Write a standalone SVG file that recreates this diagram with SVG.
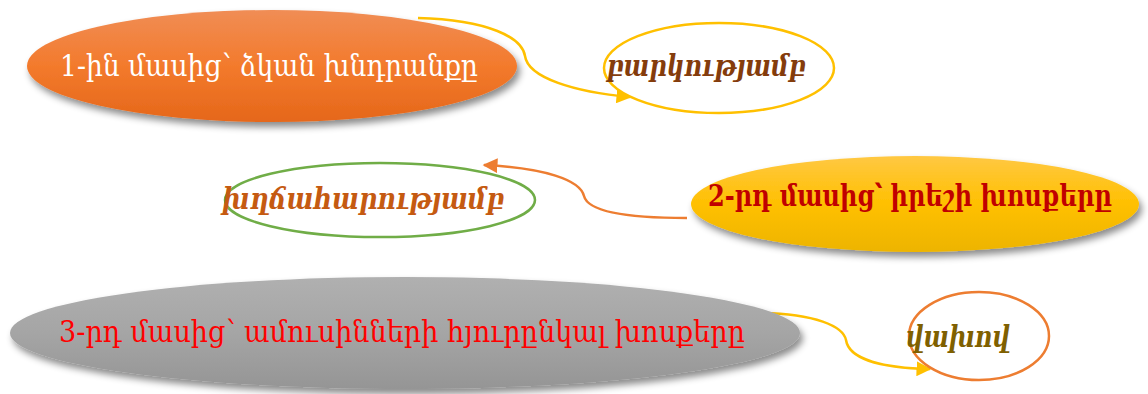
<svg xmlns="http://www.w3.org/2000/svg" width="1148" height="394" viewBox="0 0 1148 394">
<defs>
<linearGradient id="gOrange" x1="0" y1="0" x2="0" y2="1">
<stop offset="0" stop-color="#F08D55"/>
<stop offset="0.5" stop-color="#F37A2C"/>
<stop offset="1" stop-color="#E5671A"/>
</linearGradient>
<linearGradient id="gYellow" x1="0" y1="0" x2="0" y2="1">
<stop offset="0" stop-color="#FFC843"/>
<stop offset="0.5" stop-color="#FFC000"/>
<stop offset="1" stop-color="#EDB400"/>
</linearGradient>
<linearGradient id="gGray" x1="0" y1="0" x2="0" y2="1">
<stop offset="0" stop-color="#B0B0B0"/>
<stop offset="0.5" stop-color="#A5A5A5"/>
<stop offset="1" stop-color="#959595"/>
</linearGradient>
<filter id="shadow" x="-10%" y="-20%" width="120%" height="150%">
<feDropShadow dx="3" dy="5" stdDeviation="3.5" flood-color="#000" flood-opacity="0.45"/>
</filter>
<marker id="arrY" viewBox="0 0 10 10" refX="9" refY="5" markerWidth="6" markerHeight="6" orient="auto" markerUnits="strokeWidth">
<path d="M0,0 L10,5 L0,10 z" fill="#FFC000"/>
</marker>
<marker id="arrO" viewBox="0 0 10 10" refX="9" refY="5" markerWidth="6" markerHeight="6" orient="auto" markerUnits="strokeWidth">
<path d="M0,0 L10,5 L0,10 z" fill="#ED7D31"/>
</marker>
</defs>
<style>
.main{font-family:"DejaVu Serif","Noto Serif","Noto Sans",serif;font-size:30px}
.bold{font-weight:bold}
.it{font-family:"DejaVu Serif","Noto Serif","Noto Sans",serif;font-size:30px;font-style:italic;font-weight:bold}
.conn{fill:none;stroke-width:2.5}
</style>
<rect width="1148" height="394" fill="#FFFFFF"/>
<g id="connectors">
<path class="conn" stroke="#FFC000" marker-end="url(#arrY)" d="M418,18 C490,20 522,38 525,56 C528,78 575,92 630,97"/>
<path class="conn" stroke="#ED7D31" marker-end="url(#arrO)" d="M687,218 C630,218 588,212 584,196 C580,180 545,168 484,165"/>
<path class="conn" stroke="#FFC000" marker-end="url(#arrY)" d="M762,313 C815,314 843,326 846,340 C849,360 885,368 930,369"/>
</g>
<g id="node1">
<ellipse cx="272" cy="66" rx="245" ry="56" fill="url(#gOrange)" filter="url(#shadow)"/>
<text class="main" x="269" y="76" text-anchor="middle" fill="#FFFFFF" textLength="418" lengthAdjust="spacingAndGlyphs">1-ին մասից՝ ձկան խնդրանքը</text>
</g>
<g id="node2">
<ellipse cx="719" cy="68" rx="115" ry="45" fill="#FFFFFF" stroke="#FFC000" stroke-width="2.5"/>
<text class="it" x="706" y="76" text-anchor="middle" fill="#843C0C" textLength="199" lengthAdjust="spacingAndGlyphs">բարկությամբ</text>
</g>
<g id="node3">
<ellipse cx="380" cy="200" rx="155" ry="37" fill="#FFFFFF" stroke="#70AD47" stroke-width="2.5"/>
<text class="it" x="363" y="209" text-anchor="middle" fill="#C55A11" textLength="282" lengthAdjust="spacingAndGlyphs">խղճահարությամբ</text>
</g>
<g id="node4">
<ellipse cx="915" cy="204" rx="224" ry="48" fill="url(#gYellow)" filter="url(#shadow)"/>
<text class="main bold" x="910" y="206" text-anchor="middle" fill="#C00000" textLength="404" lengthAdjust="spacingAndGlyphs">2-րդ մասից՝ իրեշի խոսքերը</text>
</g>
<g id="node5">
<ellipse cx="405" cy="333" rx="395" ry="56" fill="url(#gGray)" filter="url(#shadow)"/>
<text class="main" x="402" y="342" text-anchor="middle" fill="#FF0000" textLength="686" lengthAdjust="spacingAndGlyphs">3-րդ մասից՝ ամուսինների հյուրընկալ խոսքերը</text>
</g>
<g id="node6">
<ellipse cx="979" cy="336" rx="70" ry="44" fill="none" stroke="#ED7D31" stroke-width="2.5"/>
<text class="it" x="958" y="347" text-anchor="middle" fill="#7F6000" textLength="104" lengthAdjust="spacingAndGlyphs">վախով</text>
</g>
</svg>
